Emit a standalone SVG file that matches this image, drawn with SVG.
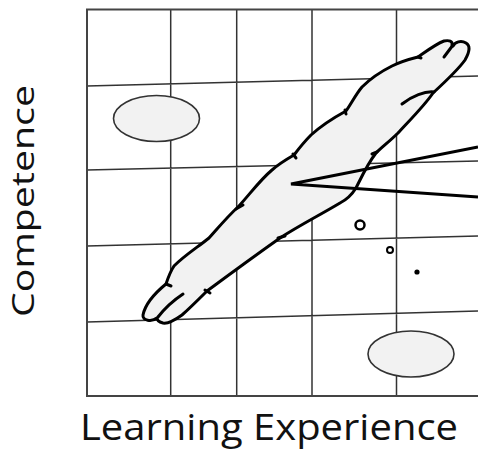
<svg xmlns="http://www.w3.org/2000/svg" width="478" height="451" viewBox="0 0 478 451">
<style>
.grid{stroke:#333;stroke-width:1.5;fill:none}
.frame{stroke:#444;stroke-width:2;fill:none}
.oval{fill:#f2f2f2;stroke:#333;stroke-width:1.6}
.blob{fill:#f2f2f2;stroke:#000;stroke-width:3;stroke-linejoin:round}
.ink{fill:none;stroke:#000;stroke-width:3;stroke-linecap:round}
.lbl{font-family:"Open Sans","Liberation Sans",sans-serif;fill:#111}
</style>
<rect width="478" height="451" fill="#fff"/>
<g id="grid">
<path class="grid" d="M170.7,9.5V396M236.7,9.5V396M312,9.5V396M396.5,9.5V396M87,86L478,76M87,170L478,161M87,246L478,236M87,322L478,311"/>
<path class="frame" d="M478,9.5H87V396H478"/>
</g>
<g id="ellipse-top">
<ellipse class="oval" cx="156.5" cy="118.5" rx="43" ry="23"/>
</g>
<g id="ellipse-bottom">
<ellipse class="oval" cx="411" cy="354" rx="43" ry="23"/>
</g>
<g id="blob">
<path class="blob" d="M157,318 C152,322 142,321 143,315 C145,305 155,293 166,284 C168,278 170,272 174,266 C185,255 198,247 209,238 C218,228 228,216 238,207 C250,194 260,180 272,170 C280,163 287,159 294,155 C300,147 305,141 311,135 C322,125 335,117 346,111 C351,104 356,94 362,87 C370,79 380,72 392,66 C400,62 410,59 418,57 C428,50 436,44 444,41 C449,40 453,41 452,45 L453,46 C455,42 461,40 466,43 C471,46 469,53 465,60 C458,70 446,81 433,93 C425,105 410,120 398,133 C390,141 382,147 376,153 C368,163 362,176 356,188 C351,196 346,200 340,203 C320,215 300,225 280,238 C256,255 230,274 207,291 C198,300 190,308 182,315 C175,320 168,324 163,323 C159,322 157,320 157,318 Z"/>
<path class="ink" stroke-width="2.6" d="M166,284L171,286M236,209L243,205M293,154L296,158M345,110L346,114M418,57L421,58M377,152L372,154M278,238L285,236M205,290L210,293M453,45L444,57M434,92C425,91 412,96 402,104M158,317C165,308 174,300 183,294"/>
</g>
<g id="connectors">
<polyline points="478,147 291,184 478,197" fill="none" stroke="#000" stroke-width="3" stroke-linejoin="miter"/>
</g>
<g id="dots">
<circle cx="360" cy="225" r="4.5" fill="#fff" stroke="#000" stroke-width="2.5"/>
<circle cx="390" cy="250" r="3" fill="#fff" stroke="#000" stroke-width="2"/>
<circle cx="417" cy="272" r="2.6" fill="#000"/>
</g>
<g id="labels">
<text class="lbl" x="269" y="440" font-size="37" text-anchor="middle" textLength="378" lengthAdjust="spacingAndGlyphs">Learning Experience</text>
<text class="lbl" transform="translate(34,201) rotate(-90)" font-size="31" text-anchor="middle" textLength="232" lengthAdjust="spacingAndGlyphs">Competence</text>
</g>
</svg>
